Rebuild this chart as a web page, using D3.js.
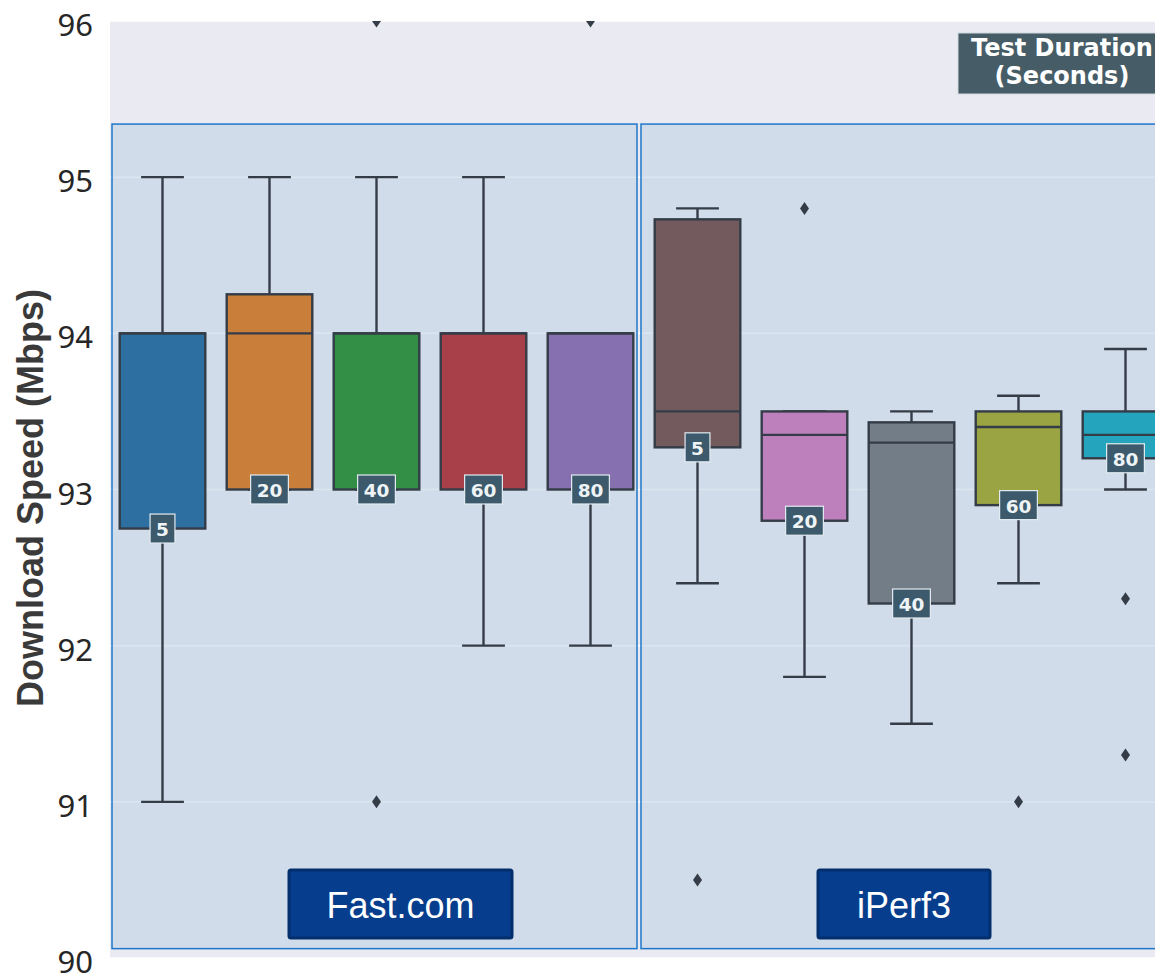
<!DOCTYPE html>
<html>
<head>
<meta charset="utf-8">
<script src="https://cdn.jsdelivr.net/npm/d3@7"></script>
<style>
  html, body { margin: 0; padding: 0; background: #ffffff; }
  svg { display: block; }
</style>
</head>
<body>
<svg id="chart" width="1155" height="976"></svg>
<script>
// ---------------- data ----------------
const tools = ["Fast.com", "iPerf3"];
const durations = [5, 20, 40, 60, 80];
const categories = ["Fast.com-5", "Fast.com-20", "Fast.com-40", "Fast.com-60", "Fast.com-80",
                    "iPerf3-5", "iPerf3-20", "iPerf3-40", "iPerf3-60", "iPerf3-80"];
const durationLabels = ["5", "20", "40", "60", "80", "5", "20", "40", "60", "80"];
const whiskerLow  = [91.0, 93.0, 93.0, 92.0, 92.0, 92.4, 91.8, 91.5, 92.4, 93.0];
const q1          = [92.75, 93.0, 93.0, 93.0, 93.0, 93.27, 92.8, 92.27, 92.9, 93.2];
const medians     = [94.0, 94.0, 94.0, 94.0, 94.0, 93.5, 93.35, 93.3, 93.4, 93.35];
const q3          = [94.0, 94.25, 94.0, 94.0, 94.0, 94.73, 93.5, 93.43, 93.5, 93.5];
const whiskerHigh = [95.0, 95.0, 95.0, 95.0, 94.0, 94.8, 93.5, 93.5, 93.6, 93.9];
const outliers    = [[], [], [96, 91], [], [96], [90.5], [94.8], [], [91], [92.3, 91.3]];
const yTicks = [90, 91, 92, 93, 94, 95, 96];
const colors = ["#2d6fa1", "#c97e3a", "#348f46", "#a8404a", "#8770b0",
                "#735b5d", "#be80bc", "#727d87", "#9aa442", "#25a5bd"];
const yAxisTitle = "Download Speed (Mbps)";
const legendTitle = ["Test Duration", "(Seconds)"];

// ---------------- layout ----------------
const svg = d3.select("#chart");
const plot = { left: 110, top: 21, right: 1179, bottom: 958 };

const y = d3.scaleLinear().domain([90, 96]).range([plot.bottom, plot.top]);
const x = d3.scaleBand().domain(categories).range([109, 1179]).paddingInner(0).paddingOuter(0);
const bw = x.bandwidth();
const boxW = bw * 0.8;
const capW = boxW / 2;

svg.append("rect").attr("width", 1155).attr("height", 976).attr("fill", "#ffffff");

// clip
svg.append("defs").append("clipPath").attr("id", "plotClip")
  .append("rect").attr("x", plot.left).attr("y", plot.top)
  .attr("width", plot.right - plot.left).attr("height", plot.bottom - plot.top);

// background
svg.append("rect").attr("x", plot.left).attr("y", plot.top)
  .attr("width", plot.right - plot.left).attr("height", plot.bottom - plot.top)
  .attr("fill", "#eaeaf2");

// gridlines
svg.append("g").selectAll("line").data(yTicks).join("line")
  .attr("x1", plot.left).attr("x2", plot.right)
  .attr("y1", d => y(d)).attr("y2", d => y(d))
  .attr("stroke", "#ffffff").attr("stroke-width", 1.5);

// panels
const panelTop = y(95.34), panelBottom = y(90.06);
const fastX0 = x(categories[0]) + 3, fastX1 = x(categories[4]) + bw - 7;
const ipX0 = x(categories[5]) - 3, ipX1 = plot.right + 20;
const panels = [[fastX0, fastX1], [ipX0, ipX1]];
svg.append("g").selectAll("rect").data(panels).join("rect")
  .attr("x", d => d[0]).attr("y", panelTop)
  .attr("width", d => d[1] - d[0]).attr("height", panelBottom - panelTop)
  .attr("fill", "#b8cee2").attr("fill-opacity", 0.5)
  .attr("stroke", "#1f77c9").attr("stroke-width", 1.5);

// boxes
const lineCol = "#343c47";
const lw = 2.4;
const g = svg.append("g").attr("clip-path", "url(#plotClip)");
categories.forEach((c, i) => {
  const cx = x(c) + bw / 2;
  const bg = g.append("g");
  // whiskers
  bg.append("line").attr("x1", cx).attr("x2", cx).attr("y1", y(q3[i])).attr("y2", y(whiskerHigh[i]))
    .attr("stroke", lineCol).attr("stroke-width", lw);
  bg.append("line").attr("x1", cx).attr("x2", cx).attr("y1", y(q1[i])).attr("y2", y(whiskerLow[i]))
    .attr("stroke", lineCol).attr("stroke-width", lw);
  bg.append("line").attr("x1", cx - capW / 2).attr("x2", cx + capW / 2)
    .attr("y1", y(whiskerHigh[i])).attr("y2", y(whiskerHigh[i]))
    .attr("stroke", lineCol).attr("stroke-width", lw);
  bg.append("line").attr("x1", cx - capW / 2).attr("x2", cx + capW / 2)
    .attr("y1", y(whiskerLow[i])).attr("y2", y(whiskerLow[i]))
    .attr("stroke", lineCol).attr("stroke-width", lw);
  // box
  bg.append("rect").attr("x", cx - boxW / 2).attr("y", y(q3[i]))
    .attr("width", boxW).attr("height", y(q1[i]) - y(q3[i]))
    .attr("fill", colors[i]).attr("stroke", lineCol).attr("stroke-width", lw);
  // median
  bg.append("line").attr("x1", cx - boxW / 2).attr("x2", cx + boxW / 2)
    .attr("y1", y(medians[i])).attr("y2", y(medians[i]))
    .attr("stroke", lineCol).attr("stroke-width", lw);
  // outliers
  bg.selectAll("path.out").data(outliers[i]).join("path")
    .attr("class", "out")
    .attr("d", "M0,-6.5L4.5,0L0,6.5L-4.5,0Z")
    .attr("transform", d => `translate(${cx},${y(d)})`)
    .attr("fill", lineCol);
});

// duration labels on boxes
categories.forEach((c, i) => {
  const cx = x(c) + bw / 2;
  const cy = y(q1[i]);
  const lg = svg.append("g");
  const t = lg.append("text").attr("x", cx).attr("y", cy + 1)
    .attr("text-anchor", "middle").attr("dominant-baseline", "central")
    .attr("font-family", "DejaVu Sans").attr("font-weight", "bold").attr("font-size", 18.5)
    .attr("fill", "#eef3f6").text(durationLabels[i]);
  const w = t.node().getComputedTextLength() + 12;
  lg.insert("rect", "text").attr("x", cx - w / 2).attr("y", cy - 14.5)
    .attr("width", w).attr("height", 29)
    .attr("fill", "#3c5a6c").attr("stroke", "#e3ebf1").attr("stroke-width", 1.2);
});

// y axis tick labels
svg.append("g").selectAll("text").data(yTicks).join("text")
  .attr("x", 93).attr("y", d => y(d) + 3)
  .attr("text-anchor", "end").attr("dominant-baseline", "central")
  .attr("font-family", "Noto Sans").attr("font-size", 31).attr("fill", "#262626")
  .text(d => d);

// y axis title
svg.append("text")
  .attr("transform", `translate(${43},${498}) rotate(-90)`)
  .attr("text-anchor", "middle")
  .attr("font-family", "Liberation Sans").attr("font-weight", "bold").attr("font-size", 37)
  .attr("textLength", 418).attr("lengthAdjust", "spacingAndGlyphs")
  .attr("fill", "#3a3a3a").text(yAxisTitle);

// tool labels
const toolBoxes = [{ cx: 400.5, w: 223 }, { cx: 904, w: 172 }];
tools.forEach((t, i) => {
  const b = toolBoxes[i];
  svg.append("rect").attr("x", b.cx - b.w / 2).attr("y", 870).attr("width", b.w).attr("height", 68)
    .attr("rx", 2).attr("fill", "#063d8c").attr("stroke", "#032f6c").attr("stroke-width", 3);
  svg.append("text").attr("x", b.cx).attr("y", 905)
    .attr("text-anchor", "middle").attr("dominant-baseline", "central")
    .attr("font-family", "Liberation Sans").attr("font-size", 36).attr("fill", "#ffffff")
    .text(t);
});

// legend title box
svg.append("rect").attr("x", 958).attr("y", 33).attr("width", 210).attr("height", 61)
  .attr("fill", "#465d67").attr("stroke", "#d0d8de").attr("stroke-width", 1);
legendTitle.forEach((s, i) => {
  svg.append("text").attr("x", 1062).attr("y", 56 + i * 28)
    .attr("text-anchor", "middle")
    .attr("font-family", "DejaVu Sans").attr("font-weight", "bold").attr("font-size", 24)
    .attr("fill", "#ffffff").text(s);
});
</script>
</body>
</html>
